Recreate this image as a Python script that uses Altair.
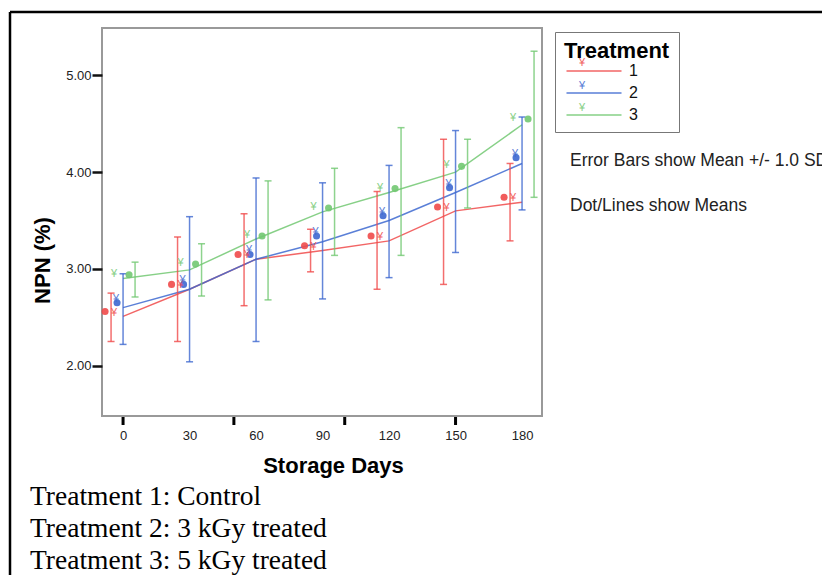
import altair as alt
import pandas as pd

# ---------------- data ----------------
days = [0, 30, 60, 90, 120, 150, 180]
treatments = ["1", "2", "3"]

red_mean = [2.56, 2.84, 3.15, 3.24, 3.34, 3.64, 3.74]
red_hi = [2.75, 3.33, 3.57, 3.41, 3.80, 4.34, 4.09]
red_lo = [2.25, 2.25, 2.62, 2.97, 2.79, 2.84, 3.29]
red_line = [2.51, 2.79, 3.10, 3.19, 3.29, 3.60, 3.69]

blue_mean = [2.65, 2.84, 3.15, 3.34, 3.55, 3.84, 4.15]
blue_hi = [2.95, 3.54, 3.94, 3.89, 4.07, 4.43, 4.57]
blue_lo = [2.22, 2.04, 2.25, 2.69, 2.91, 3.17, 3.61]
blue_line = [2.60, 2.79, 3.10, 3.28, 3.50, 3.79, 4.09]

green_mean = [2.94, 3.05, 3.34, 3.63, 3.83, 4.06, 4.55]
green_hi = [3.07, 3.26, 3.91, 4.04, 4.46, 4.34, 5.25]
green_lo = [2.71, 2.72, 2.68, 3.14, 3.14, 3.63, 3.74]
green_line = [2.90, 2.99, 3.31, 3.59, 3.79, 4.00, 4.49]

x_label_values = [0, 30, 60, 90, 120, 150, 180]
x_major_ticks = [0, 50, 100, 150]
y_tick_values = [2, 3, 4, 5]

notes = ["Error Bars show Mean +/- 1.0 SD", "Dot/Lines show Means"]
footnotes = ["Treatment 1: Control", "Treatment 2: 3 kGy treated", "Treatment 3: 5 kGy treated"]

# ---------------- layout / style ----------------
W, H = 440, 388
XDOM = [-9.5, 189.0]
YDOM = [1.48, 5.49]
PX_PER_DAY = W / (XDOM[1] - XDOM[0])
colors = ["#f04a4a", "#3d68d0", "#72c872"]
# pixel offsets of the dot and the error bar of each treatment within a day group
dot_off_px = {"1": -18, "2": -6, "3": 6}
bar_off_px = {"1": -12, "2": 0, "3": 12}
glyph_dx = {"1": 9, "2": -1, "3": -15}
glyph_dy = {"1": 1, "2": -4, "3": -1}

series = {
    "1": (red_mean, red_lo, red_hi, red_line),
    "2": (blue_mean, blue_lo, blue_hi, blue_line),
    "3": (green_mean, green_lo, green_hi, green_line),
}
rows = []
for t, (m, lo, hi, ln) in series.items():
    for i, d in enumerate(days):
        rows.append({
            "Treatment": t, "day": d, "mean": m[i], "lo": lo[i], "hi": hi[i], "line": ln[i],
            "xdot": d + dot_off_px[t] / PX_PER_DAY,
            "xbar": d + bar_off_px[t] / PX_PER_DAY,
        })
df = pd.DataFrame(rows)

xscale = alt.Scale(domain=XDOM, nice=False, zero=False)
yscale = alt.Scale(domain=YDOM, nice=False, zero=False)
cscale = alt.Scale(domain=treatments, range=colors)

FONT = "Liberation Sans"

xaxis = alt.Axis(values=x_label_values, format="d", ticks=False, tickSize=0, domain=False, grid=False,
                 labelFont=FONT, labelFontSize=13, labelColor="#222", labelPadding=13,
                 title="Storage Days", titleFont=FONT, titleFontSize=22, titleFontWeight="bold",
                 titleColor="black", titleX=231, titleY=49, titleBaseline="middle")
yaxis = alt.Axis(values=y_tick_values, format=".2f", tickSize=10, tickWidth=2.5, tickColor="#111",
                 domain=False, grid=False, labelFont=FONT, labelFontSize=13, labelColor="#222",
                 labelPadding=1, title="NPN (%)", titleFont=FONT, titleFontSize=22,
                 titleFontWeight="bold", titleColor="black", titleAngle=-90, titleX=-60, titleY=232,
                 titleAlign="center", titleBaseline="middle")

base = alt.Chart(df)

lines = base.mark_line(strokeWidth=1.5, opacity=0.85).encode(
    x=alt.X("day:Q", scale=xscale, axis=xaxis),
    y=alt.Y("line:Q", scale=yscale, axis=yaxis),
    color=alt.Color("Treatment:N", scale=cscale, legend=alt.Legend(
        title="Treatment", orient="none", legendX=453, legendY=4,
        symbolType="M-5,0H5", symbolSize=121, symbolStrokeWidth=1.5, symbolOffset=22,
        titleFont=FONT, titleFontSize=22, titleFontWeight="bold", titleColor="black",
        titleLimit=300, labelFont=FONT, labelFontSize=16, labelColor="#111", labelOffset=27,
        strokeColor="#777", padding=9, rowPadding=6, titlePadding=0)),
    detail="Treatment:N",
)

bars = base.mark_rule(strokeWidth=1.5, opacity=0.8).encode(
    x=alt.X("xbar:Q", scale=xscale), y=alt.Y("lo:Q", scale=yscale), y2="hi:Q",
    color=alt.Color("Treatment:N", scale=cscale, legend=None))
caps_hi = base.mark_tick(orient="horizontal", size=7, thickness=1.5, opacity=0.8).encode(
    x=alt.X("xbar:Q", scale=xscale), y=alt.Y("hi:Q", scale=yscale),
    color=alt.Color("Treatment:N", scale=cscale, legend=None))
caps_lo = base.mark_tick(orient="horizontal", size=7, thickness=1.5, opacity=0.8).encode(
    x=alt.X("xbar:Q", scale=xscale), y=alt.Y("lo:Q", scale=yscale),
    color=alt.Color("Treatment:N", scale=cscale, legend=None))
dots = base.mark_circle(size=50, opacity=0.9).encode(
    x=alt.X("xdot:Q", scale=xscale), y=alt.Y("mean:Q", scale=yscale),
    color=alt.Color("Treatment:N", scale=cscale, legend=None))

glyph_layers = []
for t in treatments:
    glyph_layers.append(
        alt.Chart(df[df["Treatment"] == t]).mark_text(
            text="¥", font=FONT, fontSize=11, dx=glyph_dx[t], dy=glyph_dy[t], opacity=0.85
        ).encode(x=alt.X("xdot:Q", scale=xscale), y=alt.Y("mean:Q", scale=yscale),
                 color=alt.Color("Treatment:N", scale=cscale, legend=None)))

major_ticks = alt.Chart(pd.DataFrame({"tick": x_major_ticks})).mark_rule(
    strokeWidth=3, color="black").encode(
    x=alt.X("tick:Q", scale=xscale), y=alt.value(H + 1), y2=alt.value(H + 9))

# legend glyphs above legend lines
leg_glyphs = []
for i, t in enumerate(treatments):
    leg_glyphs.append(alt.Chart(pd.DataFrame({"g": ["¥"]})).mark_text(
        font=FONT, fontSize=11, color=colors[i], opacity=0.85).encode(
        text="g:N", x=alt.value(480), y=alt.value(35 + 22.5 * i)))

note_layers = []
for i, s in enumerate(notes):
    note_layers.append(alt.Chart(pd.DataFrame({"s": [s]})).mark_text(
        font=FONT, fontSize=17.5, color="#222", align="left", baseline="alphabetic").encode(
        text="s:N", x=alt.value(468), y=alt.value(138 + 45 * i)))

foot_layers = []
for i, s in enumerate(footnotes):
    foot_layers.append(alt.Chart(pd.DataFrame({"s": [s]})).mark_text(
        font="Liberation Serif", fontSize=27.5, color="black", align="left", baseline="alphabetic").encode(
        text="s:N", x=alt.value(-72), y=alt.value(477 + 32 * i)))

border_top = alt.Chart(pd.DataFrame({"a": [0]})).mark_rule(strokeWidth=2.5, color="black").encode(
    x=alt.value(-92), x2=alt.value(730), y=alt.value(-16))
border_left = alt.Chart(pd.DataFrame({"a": [0]})).mark_rule(strokeWidth=2.5, color="black").encode(
    x=alt.value(-92), y=alt.value(-16), y2=alt.value(560))

chart = alt.layer(
    lines, bars, caps_hi, caps_lo, dots, *glyph_layers, major_ticks,
    *leg_glyphs, *note_layers, *foot_layers, border_top, border_left
).properties(
    width=W, height=H,
    autosize=alt.AutoSizeParams(type="none"),
    padding={"left": 102, "top": 28, "right": 822 - 102 - W, "bottom": 575 - 28 - H},
    background="white",
).configure_view(stroke="#999", strokeWidth=2)

chart.save("out.html", embed_options={"renderer": "svg", "actions": False})
